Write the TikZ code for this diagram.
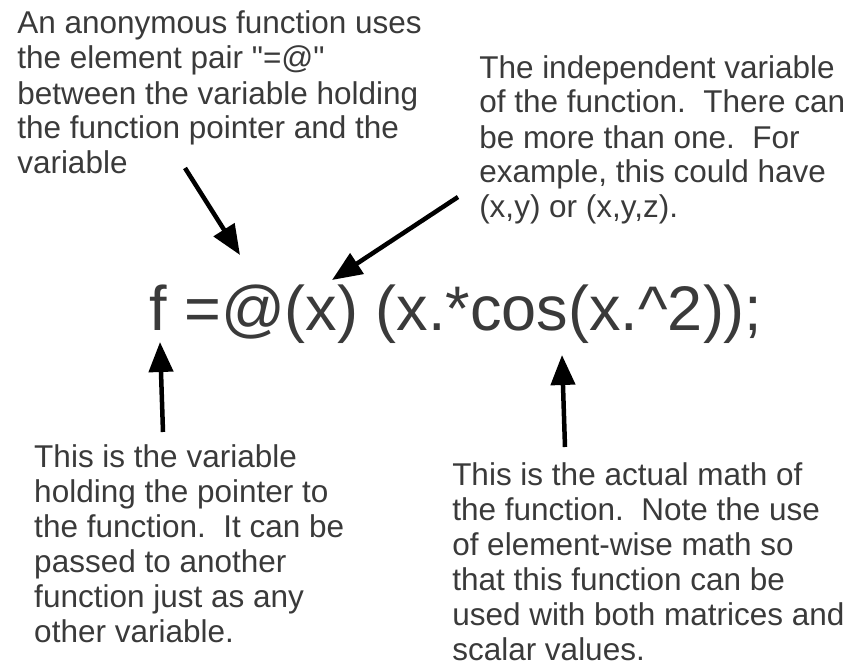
\documentclass[tikz,border=0pt]{standalone}
\usepackage{fontspec}
\setmainfont{Liberation Sans}
\usetikzlibrary{arrows.meta}

\begin{document}
\begin{tikzpicture}[x=1pt, y=-1pt, line width=4.5pt,
  >={Triangle[length=30pt, width=24pt]},
  note/.style={anchor=base west, align=left, inner sep=0pt, text=ink, font=\fontsize{31.5}{35}\selectfont},
  code/.style={anchor=base west, inner sep=0pt, text=ink, font=\fontsize{63}{70}\selectfont},
  ptr/.style={->, black},
]
\definecolor{ink}{HTML}{3A3A3A}
\useasboundingbox (0,0) rectangle (847,666);

% ---------------- the statement ----------------
\node[code] (expr) at (147,330) {f =@(x) (x.*cos(x.\textasciicircum2));};

% ---------------- notes above (placed by the baseline of their last line) ----------------
\node[note] (anon) at (15,174) {An anonymous function uses\\the element pair \textquotedbl=@\textquotedbl\\between the variable holding\\the function pointer and the\\variable};
\node[note] (indep) at (477,218) {The independent variable\\of the function.\ \ There can\\be more than one.\ \ For\\example, this could have\\(x,y) or (x,y,z).};

% ---------------- notes below ----------------
\node[note] (fvar) at (32,642) {This is the variable\\holding the pointer to\\the function.\ \ It can be\\passed to another\\function just as any\\other variable.};
\node[note] (body) at (450,660) {This is the actual math of\\the function.\ \ Note the use\\of element-wise math so\\that this function can be\\used with both matrices and\\scalar values.};

% arrow ends
\coordinate (anonT) at (185,168);
\coordinate (anonH) at (240,255);
\coordinate (indepT) at (458,197);
\coordinate (indepH) at (332,280);
\coordinate (fvarT) at (163,432);
\coordinate (fvarH) at (160,342);
\coordinate (bodyT) at (565,447);
\coordinate (bodyH) at (562,355);

\draw[ptr] (anonT) -- (anonH);
\draw[ptr] (indepT) -- (indepH);
\draw[ptr] (fvarT) -- (fvarH);
\draw[ptr] (bodyT) -- (bodyH);
\end{tikzpicture}
\end{document}
